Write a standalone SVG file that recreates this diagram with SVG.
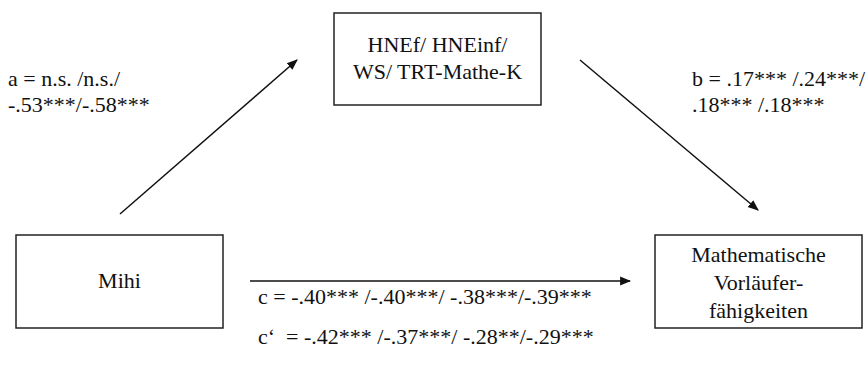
<svg xmlns="http://www.w3.org/2000/svg" width="866" height="368" viewBox="0 0 866 368">
<style>
.box{fill:#fff;stroke:#222;stroke-width:1.5}
.t{font-family:'Liberation Serif','DejaVu Serif',serif;font-size:22px;fill:#111}
.m{text-anchor:middle}
.edge{stroke:#111;stroke-width:1.5;fill:none}
</style>
<defs>
<marker id="ah" viewBox="0 0 10 10" refX="9" refY="5" markerWidth="11" markerHeight="11" markerUnits="userSpaceOnUse" orient="auto">
<path d="M0,1 L10,5 L0,9 z" fill="#111"/>
</marker>
</defs>
<rect width="866" height="368" fill="#fff"/>
<g id="connectors">
<line class="edge" marker-end="url(#ah)" x1="120" y1="214" x2="297" y2="60"/>
<line class="edge" marker-end="url(#ah)" x1="580" y1="60" x2="758" y2="210"/>
<line class="edge" marker-end="url(#ah)" x1="250" y1="281" x2="630" y2="281"/>
</g>
<g id="node-mediator">
<rect class="box" x="334" y="13" width="207" height="92"/>
<text class="t m" x="437.5" y="52">HNEf/ HNEinf/</text>
<text class="t m" x="437.5" y="79">WS/ TRT-Mathe-K</text>
</g>
<g id="node-mihi">
<rect class="box" x="16" y="235" width="207" height="93"/>
<text class="t m" x="119.5" y="288">Mihi</text>
</g>
<g id="node-outcome">
<rect class="box" x="655" y="235" width="207" height="93"/>
<text class="t m" x="758.5" y="262">Mathematische</text>
<text class="t m" x="758.5" y="290">Vorläufer-</text>
<text class="t m" x="758.5" y="318">fähigkeiten</text>
</g>
<g id="labels">
<text class="t" x="8" y="86">a = n.s. /n.s./</text>
<text class="t" x="8" y="112">-.53***/-.58***</text>
<text class="t" x="692" y="86">b = .17*** /.24***/</text>
<text class="t" x="692" y="112">.18*** /.18***</text>
<text class="t" x="258" y="304" xml:space="preserve">c = -.40*** /-.40***/ -.38***/-.39***</text>
<text class="t" x="258" y="344" xml:space="preserve">c‘  = -.42*** /-.37***/ -.28**/-.29***</text>
</g>
</svg>
